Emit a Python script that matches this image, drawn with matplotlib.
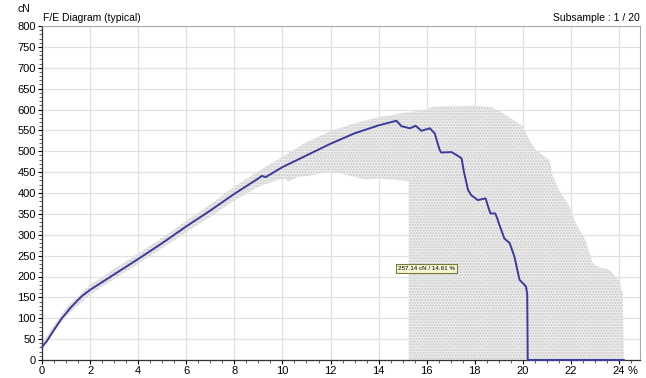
import numpy as np
import matplotlib.pyplot as plt
from matplotlib.ticker import MultipleLocator

plt.rcParams['font.family'] = ['Liberation Sans', 'DejaVu Sans']

# typical force / elongation curve
elong = [0.0, 0.05, 0.2, 0.5, 0.8, 1.0, 1.2, 1.5, 1.7, 2.0, 3.0, 4.0, 5.0,
         6.0, 7.0, 8.0, 9.0, 9.15, 9.3, 10.0, 11.0, 12.0, 13.0, 14.0, 14.74,
         14.95, 15.3, 15.54, 15.78, 16.13, 16.33, 16.45, 16.54, 16.6, 17.03,
         17.24, 17.45, 17.55, 17.72, 17.85, 18.12, 18.45, 18.55, 18.65,
         18.85, 18.93, 19.0, 19.23, 19.45, 19.65, 19.86, 20.13, 20.18, 20.2,
         24.2]
force = [30, 35, 45, 72, 98, 112, 126, 144, 155, 168, 205, 242, 280,
         320, 358, 398, 435, 441, 438, 462, 490, 518, 543, 562, 573,
         560, 555, 561, 549, 555, 543, 520, 503, 497, 498,
         491, 483, 450, 407, 395, 383, 387, 368, 351,
         351, 340, 327, 291, 280, 247, 192, 176, 156, 0,
         0]

# envelope of all subsamples
env_up_x = [0.0, 1.0, 2.0, 3.0, 4.0, 5.0, 6.0, 7.0, 8.0, 9.0, 10.0, 11.0,
            12.0, 13.0, 14.0, 14.5, 15.0, 15.8, 16.3, 17.0, 18.0, 18.7,
            19.16, 19.6, 20.0, 20.27, 20.55, 21.1, 21.25, 21.5, 21.95, 22.2,
            22.6, 22.9, 23.2, 23.6, 24.0, 24.15, 24.2]
env_up_y = [42, 125, 180, 218, 255, 293, 333, 373, 415, 452, 487, 522,
            548, 567, 582, 586, 592, 597, 607, 608, 609, 606,
            591, 575, 560, 527, 503, 479, 440, 407, 367, 327,
            287, 232, 222, 216, 190, 160, 0]
env_lo_x = [0.0, 1.0, 2.0, 3.0, 4.0, 5.0, 6.0, 7.0, 8.0, 9.0, 9.5, 10.0,
            10.3, 10.6, 11.0, 11.5, 12.0, 12.5, 13.0, 13.5, 14.0, 14.5,
            15.0, 15.25, 15.25]
env_lo_y = [30, 105, 156, 194, 230, 268, 306, 343, 382, 415, 425, 435,
            428, 438, 440, 446, 452, 446, 438, 432, 435, 432,
            430, 428, 0]

label_text = "257.14 cN / 14.61 %"
label_pos = (16.0, 220)

line_color = "#3b3b9e"

fig = plt.figure(figsize=(6.46, 3.78), dpi=100)
ax = fig.add_axes([42 / 646, 18 / 378, 598 / 646, 334 / 378])

# Envelope
# --------
poly_x = env_up_x + env_lo_x[::-1]
poly_y = env_up_y + env_lo_y[::-1]
ax.fill(poly_x, poly_y, facecolor="#eeeeee", edgecolor="#c8c8c8",
        hatch="......", linewidth=0, zorder=1)

# Curve
# -----
ax.plot(elong, force, color=line_color, linewidth=1.4, zorder=3,
        clip_on=False)

ax.text(*label_pos, label_text, fontsize=4.5, ha="center", va="center",
        zorder=4,
        bbox=dict(boxstyle="square,pad=0.3", facecolor="#f6f6d4",
                  edgecolor="#7a7a3a", linewidth=0.8))

# Axes config
# -----------
ax.set_xlim(0, 24.87)
ax.set_ylim(0, 800)
ax.xaxis.set_major_locator(MultipleLocator(2))
ax.xaxis.set_minor_locator(MultipleLocator(0.5))
ax.yaxis.set_major_locator(MultipleLocator(50))
ax.yaxis.set_minor_locator(MultipleLocator(10))
ax.set_xticks(np.arange(0, 25, 2))
ax.set_xticklabels([str(v) for v in range(0, 25, 2)])
ax.grid(True, which="major", color="#e0e0e0", linewidth=0.9, zorder=0)
ax.set_axisbelow(True)

ax.tick_params(which="major", direction="out", length=3, width=0.8,
               labelsize=8, pad=1.5, colors="black")
ax.tick_params(which="minor", direction="out", length=2, width=0.6,
               color="#444444")
for side in ("top", "right"):
    ax.spines[side].set_color("#a8a8a8")
    ax.spines[side].set_linewidth(0.8)
for side in ("left", "bottom"):
    ax.spines[side].set_color("#333333")
    ax.spines[side].set_linewidth(0.9)

fig.text(18 / 646, 1 - 9 / 378, "cN", fontsize=7.5, ha="left", va="center")
fig.text(43 / 646, 1 - 18 / 378, "F/E Diagram (typical)", fontsize=7.5,
         ha="left", va="center")
fig.text(640 / 646, 1 - 18 / 378, "Subsample : 1 / 20", fontsize=7.5,
         ha="right", va="center")
fig.text(633 / 646, 1 - 371 / 378, "%", fontsize=8, ha="center",
         va="center")

fig.savefig("out.png", dpi=100)
